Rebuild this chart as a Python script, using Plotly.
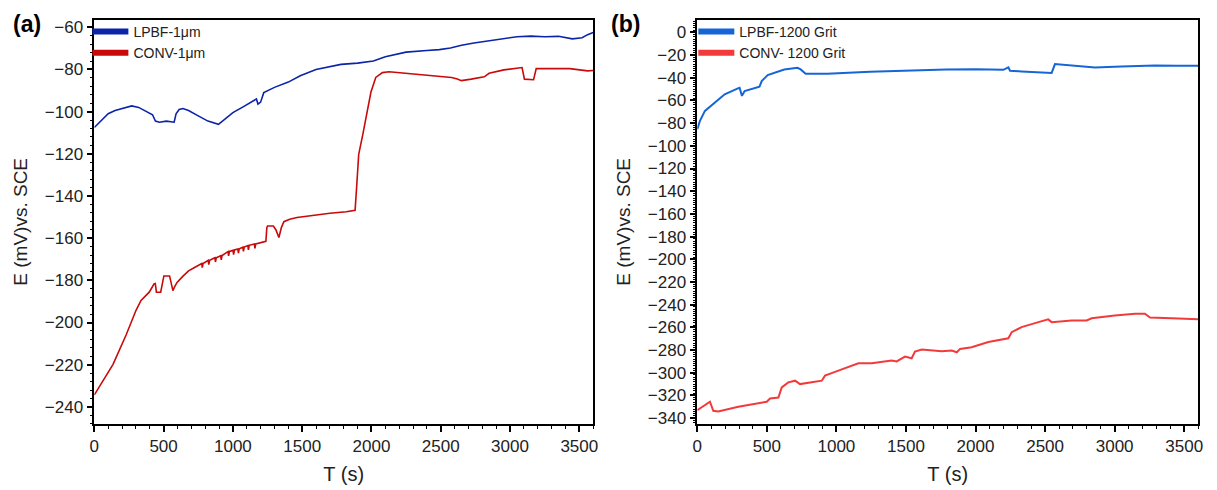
import plotly.graph_objects as go

# ---------------- Panel (a) data ----------------
t_a_lpbf = [0, 50, 100, 150, 200, 270, 320, 380, 420, 441, 470, 520, 576, 590, 612, 640,
            680, 750, 820, 896, 950, 1000, 1080, 1152, 1170, 1181, 1200, 1223, 1300, 1400,
            1486, 1600, 1700, 1780, 1900, 2014, 2100, 2250, 2400, 2490, 2570, 2650, 2740,
            2850, 2950, 3050, 3150, 3250, 3350, 3450, 3520, 3560, 3600]
e_a_lpbf = [-107.5, -104, -101, -99.5, -98.5, -97.3, -98, -100, -101.5, -104.5, -105, -104.5,
            -105, -101, -99, -98.5, -99.5, -102, -104.5, -106, -103, -100.5, -97.5, -94.5,
            -94, -96.5, -95.5, -91, -88.5, -86, -83, -80, -78.5, -77.6, -77, -76, -74, -71.8,
            -71, -70.6, -69.8, -68.5, -67.5, -66.5, -65.5, -64.5, -64.2, -64.5, -64.3, -65.5,
            -65, -63.5, -62.5]

t_a_conv = [0, 60, 135, 230, 301, 337, 370, 396, 415, 431, 440, 448, 479, 490, 502, 543, 555,
            567, 580, 597, 640, 680, 720, 752, 775, 779, 785, 822, 826, 832, 870, 874, 880,
            912, 916, 922, 965, 969, 975, 1001, 1005, 1011, 1036, 1040, 1046, 1072, 1076,
            1082, 1108, 1112, 1118, 1155, 1159, 1165, 1238, 1245, 1250, 1292, 1310, 1332,
            1350, 1368, 1410, 1463, 1581, 1700, 1818, 1882, 1896, 1908, 1937, 1961, 1996,
            2031, 2079, 2127, 2250, 2364, 2578, 2620, 2649, 2720, 2814, 2849, 2956, 3087,
            3095, 3104, 3170, 3180, 3189, 3300, 3431, 3560, 3600]
e_a_conv = [-234.3, -228, -219.8, -205.8, -194.2, -189.5, -187.5, -185.6, -183.5, -181.7,
            -181.5, -185.6, -185.6, -182, -177.9, -177.9, -181, -184.9, -183, -181, -178,
            -175.5, -174, -172.7, -172, -174, -172, -170.5, -172.5, -170.5, -169.3, -171.3,
            -169.3, -168.3, -170.3, -168.2, -166.4, -168.4, -166.3, -165.8, -167.8, -165.6,
            -165.1, -167.1, -165, -164.3, -166.3, -164.2, -163.5, -165.5, -163.4, -162.8,
            -164.8, -162.7, -161.5, -155, -154.2, -154.2, -156, -159.7, -155, -152.2, -151,
            -150.2, -149.1, -148.2, -147.5, -146.8, -132.8, -120.3, -111, -102, -90.8, -83.8,
            -81.5, -81.1, -81.8, -82.5, -83.8, -84.5, -85.3, -84.6, -83.5, -81.8, -80.2,
            -79.1, -82, -84.6, -84.9, -82, -79.6, -79.6, -79.6, -80.7, -80.5]

# ---------------- Panel (b) data ----------------
t_b_lpbf = [0, 19, 55, 126, 197, 292, 304, 321, 340, 447, 463, 506, 625, 720, 743, 779, 934,
            1242, 1599, 1789, 2000, 2200, 2236, 2248, 2331, 2450, 2547, 2571, 2690, 2858,
            3049, 3289, 3450, 3600]
e_b_lpbf = [-85.3, -78, -69.2, -62, -54.6, -49.4, -48.8, -56, -51.7, -47.9, -43, -37.7, -32.7,
            -31.3, -32.7, -36.5, -36.5, -34.8, -33.3, -32.7, -32.5, -33, -30.9, -33.8, -34.5,
            -35.2, -35.8, -28, -29.2, -30.9, -30, -29.2, -29.4, -29.5]

t_b_conv = [0, 91, 115, 150, 295, 499, 523, 583, 607, 654, 703, 738, 895, 918, 1014, 1158,
            1254, 1397, 1433, 1493, 1541, 1565, 1613, 1757, 1829, 1865, 1889, 1972, 2092,
            2236, 2260, 2331, 2452, 2523, 2547, 2691, 2799, 2835, 3001, 3146, 3218, 3254,
            3410, 3600]
e_b_conv = [-333, -325.6, -333.6, -334.2, -330, -325.6, -322.7, -321.8, -313, -308.5, -307,
            -310, -307, -302.6, -298.2, -291.7, -291.7, -289.3, -290, -285.8, -287.3, -281.4,
            -279.6, -281, -280.5, -282, -279, -277.5, -273, -269.6, -264.3, -259.8, -255.4,
            -253, -255.4, -254, -254, -252, -249.5, -248, -248, -251.3, -251.9, -252.8]

# ---------------- figure ----------------
FONT = "Liberation Sans, Arial, sans-serif"
C_A_BLUE = "#0b24a8"
C_A_RED = "#c80a0a"
C_B_BLUE = "#1565d8"
C_B_RED = "#f23a3a"

fig = go.Figure()

fig.add_trace(go.Scatter(x=t_a_lpbf, y=e_a_lpbf, mode="lines", line=dict(color=C_A_BLUE, width=1.6),
                         xaxis="x", yaxis="y", showlegend=False))
fig.add_trace(go.Scatter(x=t_a_conv, y=e_a_conv, mode="lines", line=dict(color=C_A_RED, width=1.6),
                         xaxis="x", yaxis="y", showlegend=False))
fig.add_trace(go.Scatter(x=t_b_lpbf, y=e_b_lpbf, mode="lines", line=dict(color=C_B_BLUE, width=2),
                         xaxis="x2", yaxis="y2", showlegend=False))
fig.add_trace(go.Scatter(x=t_b_conv, y=e_b_conv, mode="lines", line=dict(color=C_B_RED, width=2),
                         xaxis="x2", yaxis="y2", showlegend=False))

# legend entries (thick sample lines)
fig.add_trace(go.Scatter(x=[None], y=[None], mode="lines", name="LPBF-1μm",
                         line=dict(color=C_A_BLUE, width=6), xaxis="x", yaxis="y", legend="legend"))
fig.add_trace(go.Scatter(x=[None], y=[None], mode="lines", name="CONV-1μm",
                         line=dict(color=C_A_RED, width=6), xaxis="x", yaxis="y", legend="legend"))
fig.add_trace(go.Scatter(x=[None], y=[None], mode="lines", name="LPBF-1200 Grit",
                         line=dict(color=C_B_BLUE, width=6), xaxis="x2", yaxis="y2", legend="legend2"))
fig.add_trace(go.Scatter(x=[None], y=[None], mode="lines", name="CONV- 1200 Grit",
                         line=dict(color=C_B_RED, width=6), xaxis="x2", yaxis="y2", legend="legend2"))

OFF = 8  # page body margin
W, H = 1217 - OFF, 490 - OFF


def px(xr):
    return (xr - OFF) / W


def py(yr):
    return (H - (yr - OFF)) / H


ax_common = dict(showline=True, linecolor="black", linewidth=1.5, mirror=True,
                 ticks="outside", ticklen=6, tickwidth=1.5, tickcolor="black",
                 showgrid=False, zeroline=False,
                 tickfont=dict(family=FONT, size=17, color="#222"))

xa = dict(ax_common, range=[0, 3600], dtick=500, tick0=0,
          minor=dict(ticks="outside", ticklen=3, dtick=100, tickcolor="black", tickwidth=1.2),
          title=dict(text="T (s)", font=dict(family=FONT, size=20, color="#222"), standoff=12))

ytitle = dict(text="E (mV)vs. SCE", font=dict(family=FONT, size=19, color="#222"), standoff=12)

fig.update_layout(
    width=W, height=H,
    margin=dict(l=0, r=0, t=0, b=0),
    plot_bgcolor="white", paper_bgcolor="white",
    xaxis=dict(xa, domain=[px(90), px(593)], anchor="y"),
    xaxis2=dict(xa, domain=[px(698), px(1203)], anchor="y2"),
    yaxis=dict(ax_common, domain=[py(427), py(18)], anchor="x",
               range=[-248, -56.5], dtick=20, tick0=0,
               minor=dict(ticks="outside", ticklen=3, dtick=4, tickcolor="black", tickwidth=1.2),
               title=ytitle),
    yaxis2=dict(ax_common, domain=[py(427), py(18)], anchor="x2",
                range=[-345, 11], dtick=20, tick0=0,
                minor=dict(ticks="outside", ticklen=3, dtick=2, tickcolor="black", tickwidth=1),
                title=ytitle),
    legend=dict(x=px(83), y=py(14), xanchor="left", yanchor="top",
                bgcolor="rgba(0,0,0,0)", font=dict(family=FONT, size=14, color="#222"),
                itemwidth=36, tracegroupgap=0),
    legend2=dict(x=px(694), y=py(14), xanchor="left", yanchor="top",
                 bgcolor="rgba(0,0,0,0)", font=dict(family=FONT, size=14, color="#222"),
                 itemwidth=36, tracegroupgap=0),
    annotations=[
        dict(text="<b>(a)</b>", x=px(6), y=py(22), xref="paper", yref="paper",
             xanchor="left", yanchor="middle", showarrow=False,
             font=dict(family=FONT, size=23, color="black")),
        dict(text="<b>(b)</b>", x=px(609), y=py(22), xref="paper", yref="paper",
             xanchor="left", yanchor="middle", showarrow=False,
             font=dict(family=FONT, size=23, color="black")),
    ],
)

fig.write_html("out.html")
